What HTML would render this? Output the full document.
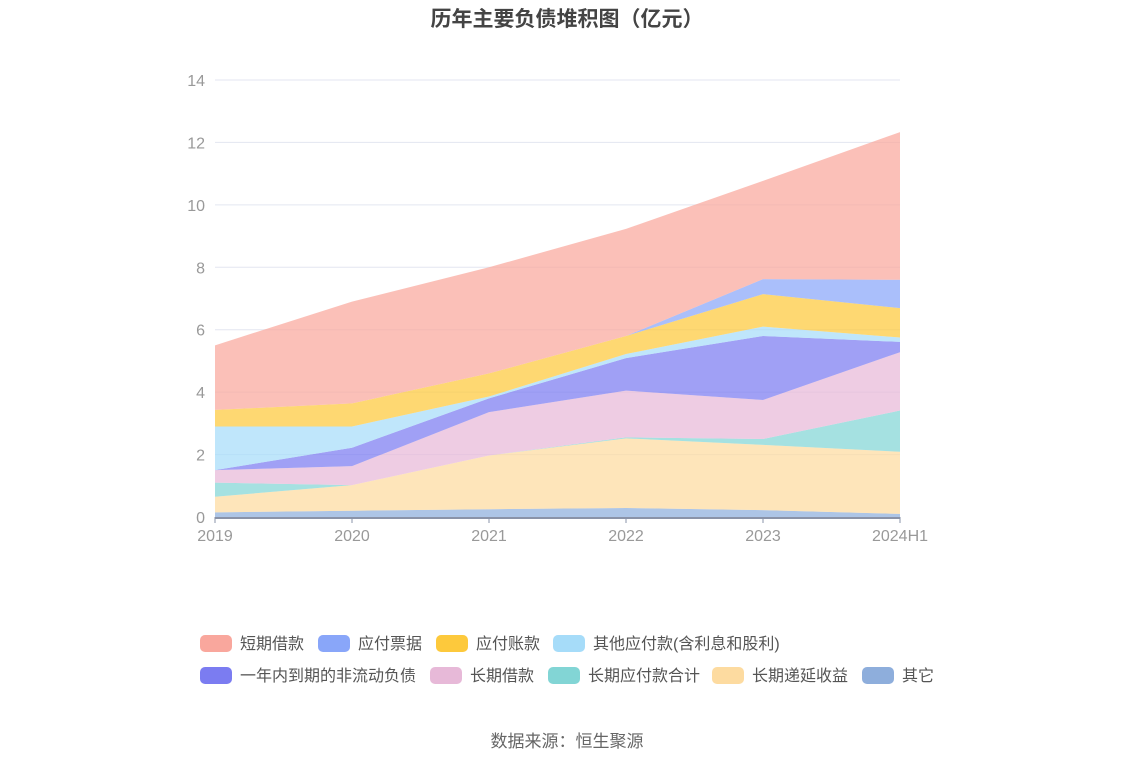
<!DOCTYPE html>
<html><head><meta charset="utf-8"><style>
body{margin:0;background:#fff;font-family:"Liberation Sans","Noto Sans CJK SC",sans-serif;}
svg text{font-family:"Liberation Sans","Noto Sans CJK SC",sans-serif;}
</style></head><body>
<svg id="c" width="1134" height="766" xmlns="http://www.w3.org/2000/svg">
<text x="567" y="26" text-anchor="middle" font-size="21" font-weight="bold" fill="#444">历年主要负债堆积图（亿元）</text>
<g id="grid"></g><g id="areas"></g><g id="axis"></g><g id="legend"></g>
<text x="567" y="747" text-anchor="middle" font-size="17" fill="#666">数据来源：恒生聚源</text>
</svg>
<script>
const categories=["2019","2020","2021","2022","2023","2024H1"];
const seriesNames=["其它","长期递延收益","长期应付款合计","长期借款","一年内到期的非流动负债","其他应付款(含利息和股利)","应付账款","应付票据","短期借款"];
const other=[0.15,0.2,0.25,0.29,0.22,0.1];
const deferred=[0.5,0.82,1.72,2.23,2.09,1.99];
const ltPayable=[0.45,0,0,0.03,0.19,1.32];
const ltBorrow=[0.4,0.61,1.39,1.5,1.25,1.87];
const currentNonCurrent=[0,0.59,0.44,1.04,2.05,0.33];
const otherPayable=[1.4,0.68,0.06,0.13,0.3,0.14];
const accountsPayable=[0.53,0.74,0.74,0.58,1.04,0.94];
const notesPayable=[0,0,0,0,0.48,0.91];
const shortBorrow=[2.07,3.26,3.4,3.43,3.15,4.73];
const yTicks=[0,2,4,6,8,10,12,14];
const series=[other,deferred,ltPayable,ltBorrow,currentNonCurrent,otherPayable,accountsPayable,notesPayable,shortBorrow];
const colors=["#8eaedc","#fddba0","#82d5d5","#e7b9d8","#7b7cf1","#a6dcf9","#fdc93c","#89a6f9","#f9a79d"];
const NS="http://www.w3.org/2000/svg";
const X0=215,X1=900,Y0=517,Y1=80,YMAX=14;
const xs=i=>X0+(X1-X0)*i/(categories.length-1);
const ys=v=>Y0-(Y0-Y1)*v/YMAX;
function mk(t,a,p){const e=document.createElementNS(NS,t);for(const k in a)e.setAttribute(k,a[k]);p.appendChild(e);return e;}
const grid=document.getElementById('grid'),areas=document.getElementById('areas'),axis=document.getElementById('axis'),legend=document.getElementById('legend');
yTicks.forEach(t=>{
 if(t>0){const l=mk('line',{x1:X0,x2:X1,y1:ys(t),y2:ys(t),stroke:'#e3e6f0','stroke-width':1},grid);
 
 }
 const tx=mk('text',{x:205,y:ys(t)+6,'text-anchor':'end','font-size':16,fill:'#999'},axis);tx.textContent=t;
 
 
});
let base=categories.map(()=>0);
series.forEach((s,k)=>{
 const top=base.map((b,i)=>b+s[i]);
 let d='';top.forEach((v,i)=>d+=(i?'L':'M')+xs(i)+','+ys(v));
 for(let i=base.length-1;i>=0;i--)d+='L'+xs(i)+','+ys(base[i]);
 const p=mk('path',{d:d+'Z',fill:colors[k],'fill-opacity':0.72},areas);
 
 
 base=top;
});
mk('line',{x1:X0,x2:X1,y1:Y0+1,y2:Y0+1,stroke:'#8a93a8','stroke-width':2},axis);
categories.forEach((c,i)=>{
 mk('line',{x1:xs(i),x2:xs(i),y1:Y0,y2:Y0+6,stroke:'#8a93a8'},axis);
 const tx=mk('text',{x:xs(i),y:Y0+24,'text-anchor':'middle','font-size':16,fill:'#999'},axis);tx.textContent=c;
 
 
});
const legendOrder=[[8,200,643],[7,318,643],[6,436,643],[5,553,643],[4,200,675],[3,430,675],[2,548,675],[1,712,675],[0,862,675]];
legendOrder.forEach(([k,x,y])=>{
 const g=mk('g',{},legend);
 
 
 mk('rect',{x:x,y:y-8,width:32,height:17,rx:5,fill:colors[k]},g);
 const t=mk('text',{x:x+40,y:y+6,'font-size':16,fill:'#555'},g);t.textContent=seriesNames[k];
});
</script>
</body></html>
